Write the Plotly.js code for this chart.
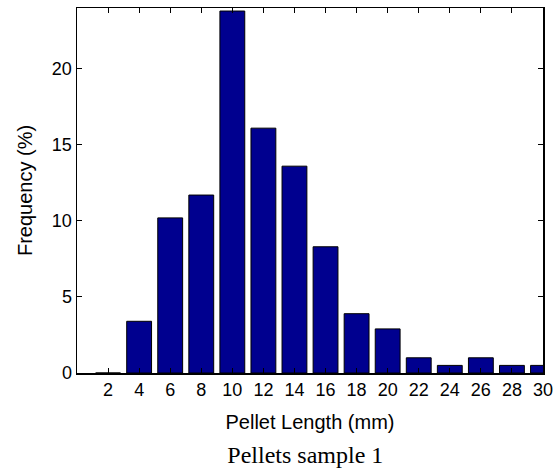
<!DOCTYPE html>
<html>
<head>
<meta charset="utf-8">
<script src="https://cdn.plot.ly/plotly-3.0.1.min.js"></script>
<style>html,body{margin:0;padding:0;background:#fff;}</style>
</head>
<body>
<div id="chart" style="width:555px;height:473px;"></div>
<script>
const pelletLength = [2, 4, 6, 8, 10, 12, 14, 16, 18, 20, 22, 24, 26, 28, 30];
const frequency = [0, 3.4, 10.2, 11.7, 23.8, 16.1, 13.6, 8.3, 3.9, 2.9, 1.0, 0.5, 1.0, 0.5, 0.5];
const xTickLabels = ["2", "4", "6", "8", "10", "12", "14", "16", "18", "20", "22", "24", "26", "28", "30"];
const yTickValues = [0, 5, 10, 15, 20];
const yTickLabels = ["0", "5", "10", "15", "20"];

const trace = {
  type: 'bar',
  x: pelletLength,
  y: frequency,
  marker: {color: '#00008f', line: {color: '#000000', width: 1}},
  hoverinfo: 'x+y'
};

const axisFont = {family: 'Liberation Sans, Arial, sans-serif', size: 18, color: '#000'};
const labelFont = {family: 'Liberation Sans, Arial, sans-serif', size: 20, color: '#000'};

const layout = {
  width: 555,
  height: 473,
  margin: {l: 77, r: 12, t: 8, b: 100},
  paper_bgcolor: '#fff',
  plot_bgcolor: '#fff',
  showlegend: false,
  bargap: 0.2,
  title: {
    text: 'Pellets sample 1',
    font: {family: 'Liberation Serif, Times New Roman, serif', size: 24, color: '#000'},
    xref: 'paper', x: 0.49, xanchor: 'center',
    yref: 'container', y: 0.038, yanchor: 'middle'
  },
  xaxis: {
    range: [0, 30],
    tickvals: pelletLength,
    ticktext: xTickLabels,
    ticks: 'inside', ticklen: 5, tickcolor: '#000', tickwidth: 1,
    mirror: 'ticks', showline: true, linecolor: '#000', linewidth: 1.5,
    showgrid: false, zeroline: false,
    tickfont: axisFont,
    title: {text: 'Pellet Length (mm)', font: labelFont, standoff: 16}
  },
  yaxis: {
    range: [0, 24],
    tickvals: yTickValues,
    ticktext: yTickLabels,
    ticks: 'inside', ticklen: 5, tickcolor: '#000', tickwidth: 1,
    mirror: 'ticks', showline: true, linecolor: '#000', linewidth: 1.5,
    showgrid: false, zeroline: false,
    tickfont: axisFont,
    title: {text: 'Frequency (%)', font: labelFont, standoff: 14}
  }
};

Plotly.newPlot('chart', [trace], layout, {displayModeBar: false, staticPlot: true});
</script>
</body>
</html>
